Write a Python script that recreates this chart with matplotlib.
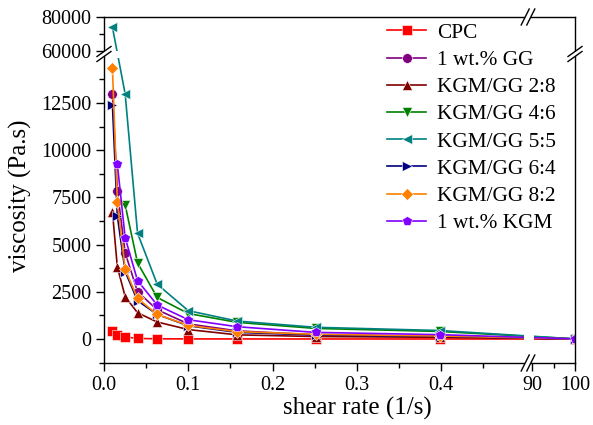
import numpy as np
import matplotlib
matplotlib.use("Agg")
import matplotlib.pyplot as plt
from matplotlib.lines import Line2D
from matplotlib.patches import Polygon, Rectangle
from matplotlib.transforms import Affine2D

plt.rcParams['font.family'] = ['Liberation Serif', 'DejaVu Serif']

# ---------------- data ----------------
shear_rate = [0.01, 0.0158, 0.0251, 0.0398, 0.0631, 0.1, 0.158, 0.251, 0.398, 100]
nan = np.nan
cpc     = [400, 210, 110, 30, 10, 5, 3, 2, 1, 0.5]
gg      = [12980, 7850, 4570, 2500, 1550, 800, 430, 220, 140, 5]
kg_28   = [6740, 3830, 2240, 1390, 900, 500, 220, 130, 90, 3]
kg_46   = [nan, nan, 7100, 4030, 2200, 1350, 880, 560, 400, 5]
kg_55   = [74000, nan, 12980, 5600, 2900, 1500, 950, 620, 450, 5]
kg_64   = [12400, 6520, 3570, 2030, 1300, 700, 350, 210, 140, 4]
kg_82   = [14340, 7270, 3700, 2150, 1300, 720, 390, 250, 160, 4]
kgm     = [nan, 9270, 5360, 3090, 1800, 1020, 650, 350, 230, 5]

labels  = ['CPC', '1 wt.% GG', 'KGM/GG 2:8', 'KGM/GG 4:6', 'KGM/GG 5:5',
           'KGM/GG 6:4', 'KGM/GG 8:2', '1 wt.% KGM']
series  = [cpc, gg, kg_28, kg_46, kg_55, kg_64, kg_82, kgm]
colors  = ['#FF0000', '#800080', '#800000', '#008000', '#008080',
           '#000080', '#FF8000', '#8000FF']
markers = ['s', 'o', '^', 'v', '<', '>', 'D', 'p']

xticks = [0.0, 0.1, 0.2, 0.3, 0.4, 90, 100]
xticklabels = ['0.0', '0.1', '0.2', '0.3', '0.4', '90', '100']
xminor = [0.05, 0.15, 0.25, 0.35, 0.45, 95]
yticks = [0, 2500, 5000, 7500, 10000, 12500, 60000, 80000]
yticklabels = ['0', '2500', '5000', '7500', '10000', '12500', '60000', '80000']
yminor = [-1250, 1250, 3750, 6250, 8750, 11250, 13750, 70000]

# ---------------- figure geometry (pixels) ----------------
W, H = 593, 425
L, R, T, B = 104, 575, 17, 363

# piecewise-linear (broken) axis mappings
def make_pw(kv, kp):
    kv = np.asarray(kv, float)
    kp = np.asarray(kp, float)

    def mapper(a, b):
        s0 = (b[1] - b[0]) / (a[1] - a[0])
        s1 = (b[-1] - b[-2]) / (a[-1] - a[-2])

        def f(v):
            v = np.asarray(v, float)
            out = np.interp(v, a, b)
            out = np.where(v < a[0], b[0] + (v - a[0]) * s0, out)
            out = np.where(v > a[-1], b[-1] + (v - a[-1]) * s1, out)
            return out
        return f
    return mapper(kv, kp), mapper(kp, kv)

x_fwd, x_inv = make_pw([0, 0.5, 89.0, 100], [0, 421.6, 423.7, 471])
y_fwd, y_inv = make_pw([0, 15000, 58500, 80000], [0, 283.2, 285.45, 322])

fig = plt.figure(figsize=(W / 100, H / 100), dpi=100)
ax = fig.add_axes([L / W, (H - B) / H, (R - L) / W, (B - T) / H])
ax.set_xscale('function', functions=(x_fwd, x_inv))
ax.set_yscale('function', functions=(y_fwd, y_inv))

for ys, lab, c, m in zip(series, labels, colors, markers):
    xs = np.array(shear_rate, float)
    ys = np.array(ys, float)
    ok = ~np.isnan(ys)
    ms = 6.2 if m == 'D' else 7
    ax.plot(xs[ok], ys[ok], color=c, marker=m, ms=ms, lw=1.2,
            mec='white', mew=0.4, label=lab, zorder=2)

ax.set_xlim(0, 100)
ax.set_ylim(-1271, 80000)

ax.set_xticks(xticks)
ax.set_xticklabels(xticklabels)
ax.set_xticks(xminor, minor=True)
ax.set_yticks(yticks)
ax.set_yticklabels(yticklabels)
ax.set_yticks(yminor, minor=True)

ax.tick_params(which='both', direction='out', width=1.0, labelsize=14.5,
               top=False, right=False)
ax.tick_params(which='major', length=6)
ax.tick_params(which='minor', length=3.5)
ax.tick_params(axis='y', pad=3)
ax.tick_params(axis='x', pad=3)
for sp in ax.spines.values():
    sp.set_linewidth(1.0)

ax.set_xlabel('shear rate (1/s)', fontsize=18)
ax.set_ylabel('viscosity (Pa.s)', fontsize=18)
ax.xaxis.set_label_coords((357.5 - L) / (R - L), -0.098)
ax.yaxis.set_label_coords((32 - L) / (R - L), (B - 195.5) / (B - T))

# pixel transform (origin top-left)
pix = Affine2D().scale(1 / W, -1 / H).translate(0, 1) + fig.transFigure

# gaps in the data lines at the breaks (below spines/legend)
ax.add_patch(Rectangle((523.5, T), 10, B - T, transform=pix, fc='white',
                       ec='none', zorder=2.3))
ax.add_patch(Rectangle((L, 50.5), R - L, 7, transform=pix, fc='white',
                       ec='none', zorder=2.3))

leg = ax.legend(loc='upper left', bbox_to_anchor=(387 / W, 1 - 23 / H),
                bbox_transform=fig.transFigure, frameon=False, fontsize=15.3,
                borderpad=0, borderaxespad=0, handlelength=1.85,
                handletextpad=0.5, labelspacing=0.345)
leg.set_zorder(5)

# break marks on the spines
def vbreak(cx, cy):
    d = 2.5
    poly = [(cx - 7, cy + 5 + d), (cx + 7, cy - 5 + d),
            (cx + 7, cy - 5 - d), (cx - 7, cy + 5 - d)]
    fig.add_artist(Polygon(poly, closed=True, fc='white', ec='none',
                           transform=pix, zorder=3))
    for s in (-d, d):
        fig.add_artist(Line2D([cx - 7, cx + 7], [cy + 5 + s, cy - 5 + s],
                              color='black', lw=1.0, transform=pix, zorder=4))

def hbreak(cx, cy):
    d = 2.8
    poly = [(cx - 4 - d, cy + 8), (cx + 4 - d, cy - 8),
            (cx + 4 + d, cy - 8), (cx - 4 + d, cy + 8)]
    fig.add_artist(Polygon(poly, closed=True, fc='white', ec='none',
                           transform=pix, zorder=3))
    for s in (-d, d):
        fig.add_artist(Line2D([cx - 4 + s, cx + 4 + s], [cy + 8, cy - 8],
                              color='black', lw=1.0, transform=pix, zorder=4))

vbreak(L, 54)
vbreak(R, 54)
hbreak(528, T)
hbreak(528, B)

fig.savefig('out.png', dpi=100)
